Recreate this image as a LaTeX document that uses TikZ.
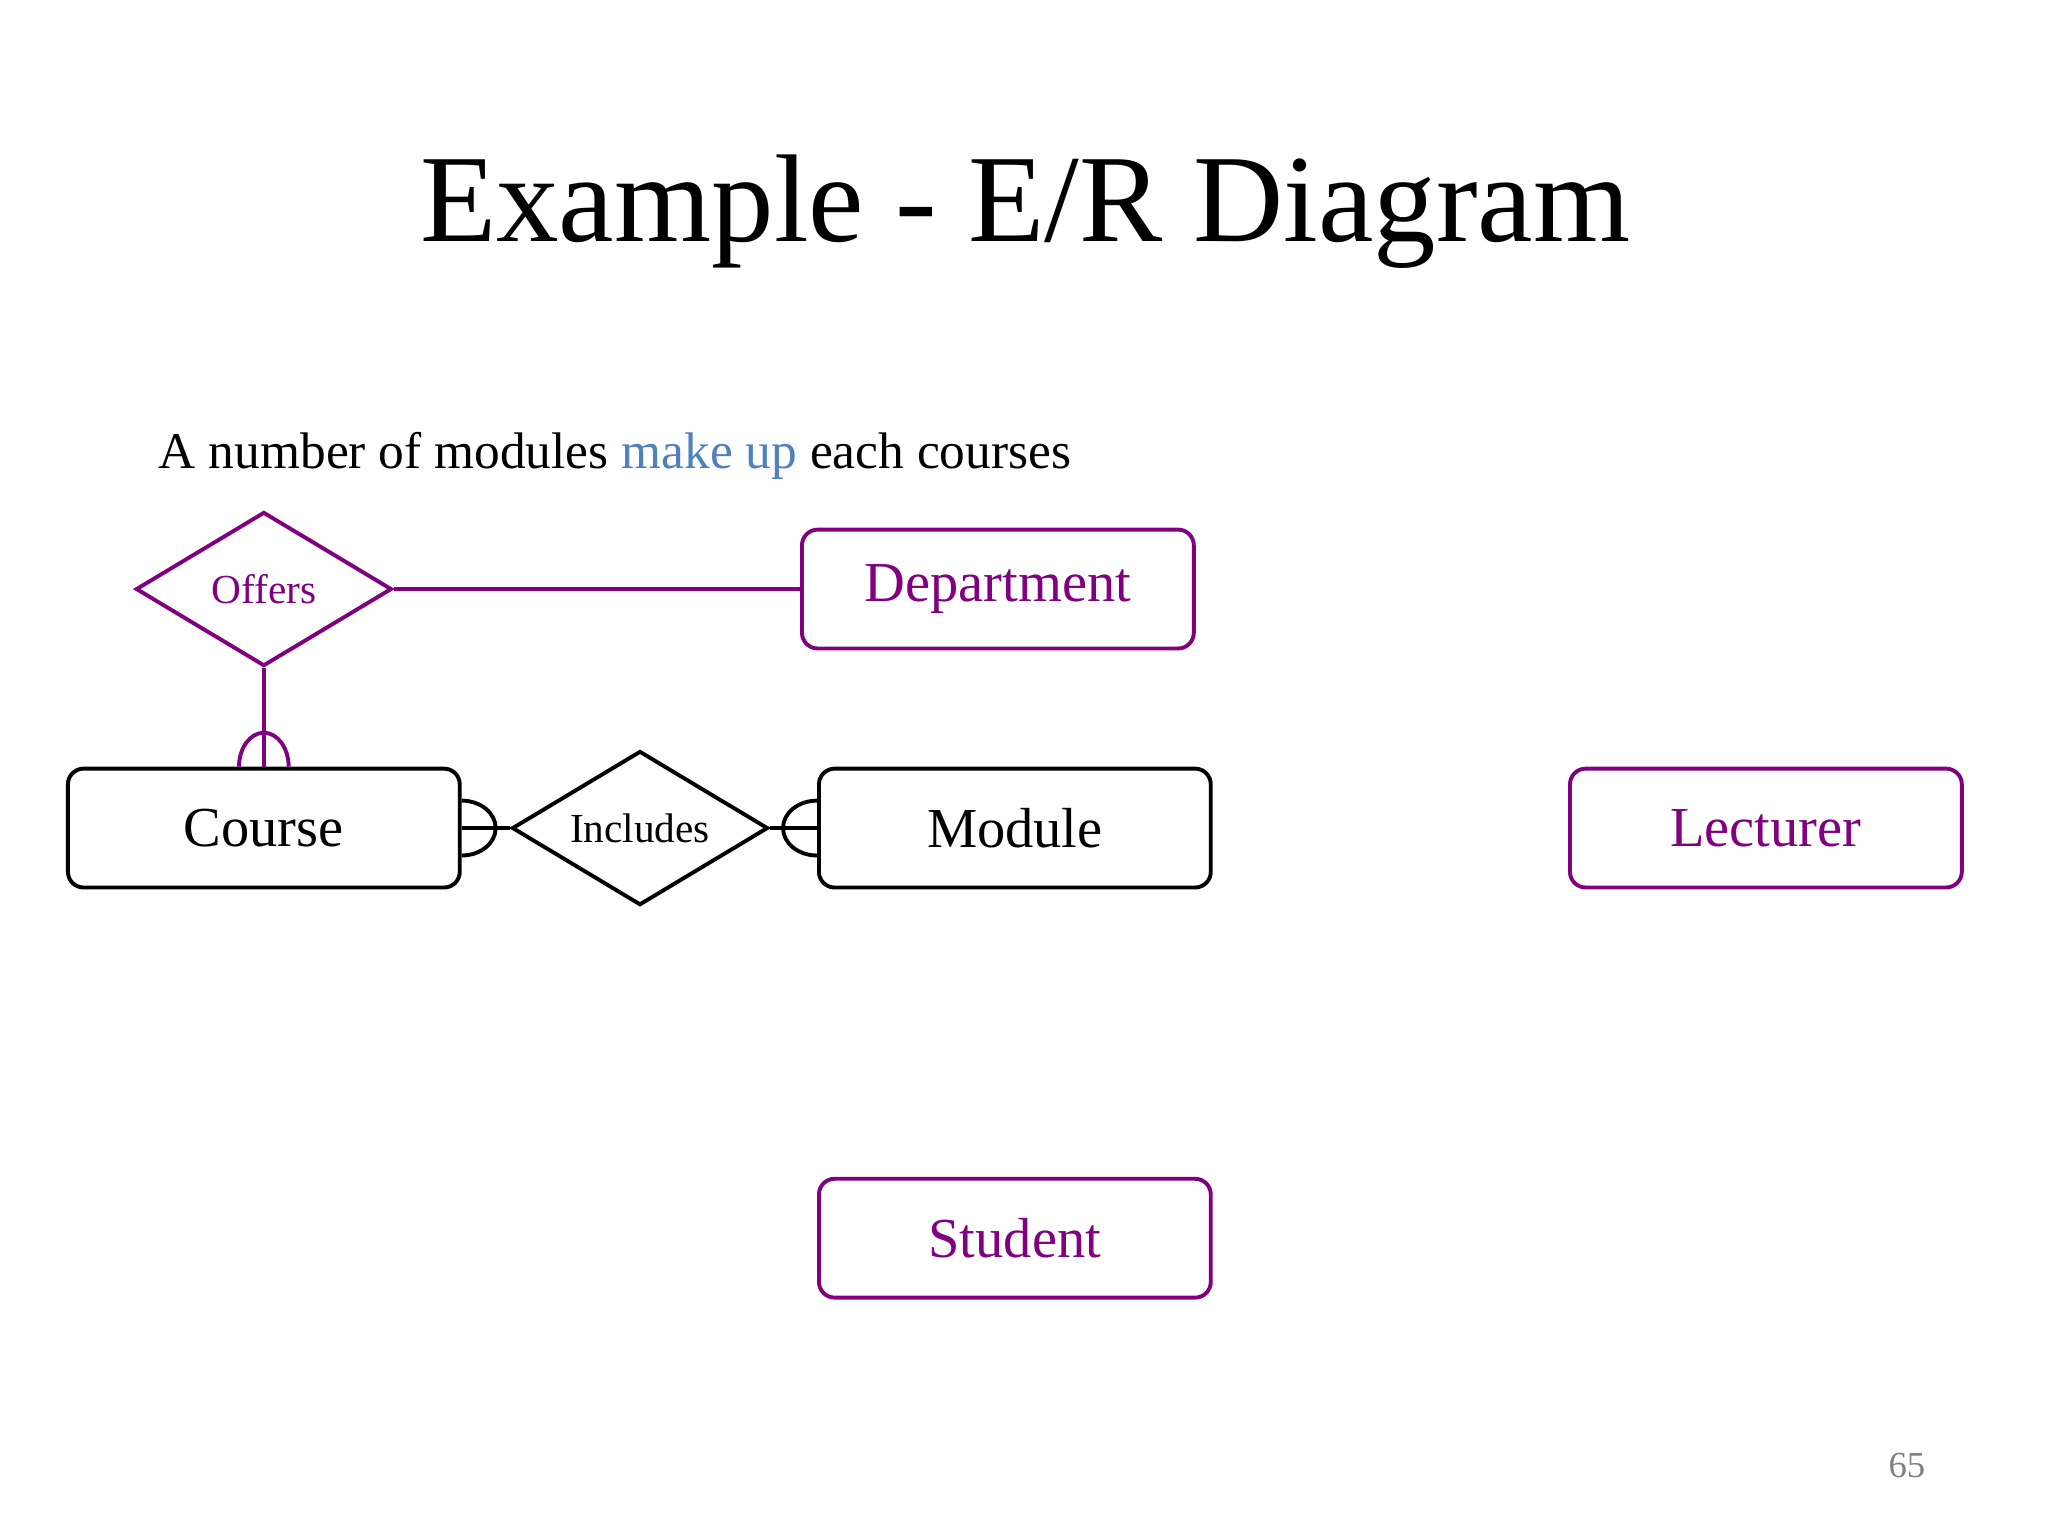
\documentclass[tikz,border=0pt]{standalone}
\usepackage{fontspec}
\setmainfont{Liberation Serif}
\usetikzlibrary{shapes.geometric}
\definecolor{erpurple}{HTML}{800080}
\definecolor{erblue}{HTML}{4F81BD}
\tikzset{
  entity/.style={draw, rounded corners=0.12cm, line width=0.85pt,
    minimum width=3cm, minimum height=0.91cm, font=\fontsize{12.3}{14}\selectfont},
  relation/.style={draw, diamond, aspect=1.66, inner sep=0pt, line width=0.85pt,
    minimum width=1.96cm, minimum height=1.18cm, font=\fontsize{9}{11}\selectfont},
  link/.style={line width=0.85pt}
}
\begin{document}
\begin{tikzpicture}
  \useasboundingbox (0,0) rectangle (15.68,-11.76);

  \node (title) at (7.85,-1.62) {\fontsize{27.2}{30}\selectfont Example - E/R Diagram};
  \node[anchor=west, inner sep=0pt] (sub) at (1.21,-3.49)
    {\fontsize{11.2}{13}\selectfont A number of modules \textcolor{erblue}{make up} each courses};

  \node[relation, erpurple] (offers) at (2.02,-4.51) {Offers};
  \node[entity, erpurple] (department) at (7.64,-4.51) {Department};
  \node[entity] (course) at (2.02,-6.34) {Course};
  \node[relation] (includes) at (4.90,-6.34) {Includes};
  \node[entity] (module) at (7.77,-6.34) {Module};
  \node[entity, erpurple] (lecturer) at (13.52,-6.34) {Lecturer};
  \node[entity, erpurple] (student) at (7.77,-9.48) {Student};
  \node[gray] (page) at (14.60,-11.22) {\fontsize{8}{10}\selectfont 65};

  % connectors
  \draw[link, erpurple] (offers) -- (department);
  \draw[link, erpurple] (offers) -- (course);
  \draw[link, erpurple] ([xshift=-0.19cm]course.north)
    arc[start angle=180, end angle=0, x radius=0.19cm, y radius=0.26cm];
  \draw[link] (course) -- (includes);
  \draw[link] ([yshift=0.21cm]course.east)
    arc[start angle=90, end angle=-90, x radius=0.26cm, y radius=0.21cm];
  \draw[link] (includes) -- (module);
  \draw[link] ([yshift=0.21cm]module.west)
    arc[start angle=90, end angle=270, x radius=0.26cm, y radius=0.21cm];
\end{tikzpicture}
\end{document}
